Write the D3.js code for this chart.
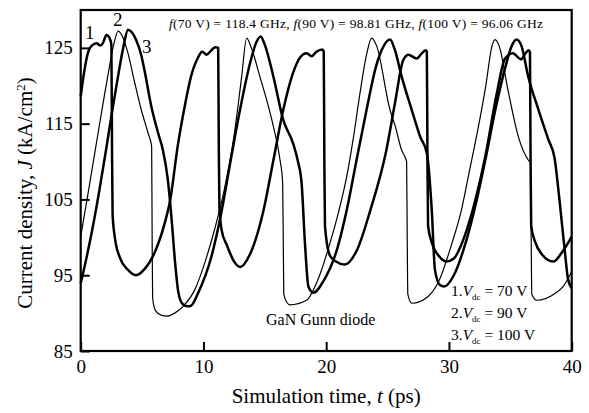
<!DOCTYPE html>
<html>
<head>
<meta charset="utf-8">
<script src="https://cdn.jsdelivr.net/npm/d3@7"></script>
<style>
  html, body { margin: 0; padding: 0; background: #fff; }
  svg, svg text { font-family: "Liberation Serif", "Times New Roman", "DejaVu Serif", serif; }
</style>
</head>
<body>
<svg id="chart" width="589" height="413"></svg>
<script>
// Current density J (kA/cm^2) versus simulation time t (ps) for a GaN Gunn diode

// Curve 1: Vdc = 70 V (thick)
const v70Time = [0.0, 0.3, 0.6, 0.9, 1.3, 1.6, 1.8, 2.1, 2.35, 2.5, 2.55, 2.6, 2.8, 3.2, 3.85, 4.5, 5.2, 6.0, 6.85, 7.3, 7.9, 8.5, 9.0, 9.55, 9.9, 10.25, 10.6, 10.95, 11.2, 11.25, 11.3, 11.5, 11.9, 12.5, 13.0, 13.8, 14.9, 15.7, 16.5, 17.3, 17.9, 18.4, 18.82, 19.2, 19.7, 19.8, 19.85, 19.9, 20.3, 20.8, 21.5, 22.5, 23.6, 24.9, 25.6, 26.28, 26.7, 27.37, 27.8, 28.1, 28.2, 28.25, 28.3, 28.6, 29.2, 29.8, 30.4, 31.0, 32.0, 33.0, 33.9, 34.57, 35.2, 35.87, 36.2, 36.5, 36.6, 36.65, 36.7, 37.0, 37.6, 38.5, 39.2, 40.0];
const v70Density = [118.6, 122.0, 124.4, 125.3, 125.6, 125.3, 125.6, 126.7, 126.3, 125.4, 112.0, 103.0, 99.8, 97.3, 95.7, 95.0, 95.8, 97.9, 101.9, 105.0, 112.0, 117.5, 121.3, 123.7, 124.5, 124.1, 124.6, 125.1, 125.0, 112.0, 104.0, 100.8, 99.0, 96.8, 96.1, 97.8, 103.6, 110.2, 116.8, 121.7, 123.8, 124.3, 123.9, 124.5, 124.8, 124.5, 110.0, 101.5, 97.6, 96.8, 96.4, 98.3, 103.6, 111.5, 117.7, 123.4, 124.1, 123.6, 124.3, 124.7, 124.5, 110.0, 101.5, 99.3, 97.5, 96.8, 97.2, 99.0, 104.0, 111.0, 119.0, 123.6, 124.3, 123.5, 124.2, 124.7, 124.4, 110.0, 101.5, 99.5, 97.7, 96.8, 98.0, 100.1];

// Curve 2: Vdc = 90 V (thin)
const v90Time = [0.0, 0.6, 1.4, 2.2, 2.7, 3.05, 3.4, 3.85, 4.4, 4.94, 5.48, 5.78, 5.82, 5.86, 6.1, 6.6, 7.0, 7.66, 8.4, 9.3, 10.1, 10.9, 11.7, 12.5, 13.1, 13.52, 13.9, 14.6, 15.7, 16.24, 16.45, 16.5, 16.55, 16.8, 17.05, 18.4, 19.3, 20.3, 21.0, 21.67, 22.2, 22.75, 23.3, 23.7, 24.1, 25.2, 25.6, 26.15, 26.45, 26.55, 26.6, 26.65, 26.97, 28.3, 29.2, 30.2, 31.0, 31.7, 32.4, 33.0, 33.5, 33.75, 34.1, 34.8, 35.65, 36.46, 36.65, 36.7, 36.75, 37.15, 38.64, 39.3, 40.0];
const v90Density = [100.1, 105.8, 113.6, 121.2, 125.5, 127.2, 126.5, 124.3, 120.4, 116.8, 113.8, 112.0, 100.0, 92.0, 90.3, 89.7, 89.6, 90.0, 91.0, 93.1, 96.6, 101.0, 106.3, 113.5, 121.0, 126.3, 125.0, 121.2, 114.6, 110.2, 107.3, 100.0, 92.5, 91.4, 91.1, 91.7, 94.3, 99.2, 103.3, 108.0, 113.0, 119.0, 124.2, 126.3, 125.3, 116.8, 114.8, 111.5, 110.5, 110.0, 100.0, 92.5, 91.3, 92.2, 94.3, 99.0, 103.5, 109.0, 114.6, 120.0, 125.2, 126.1, 125.2, 119.5, 113.3, 110.2, 109.8, 100.0, 92.5, 91.7, 92.6, 93.5, 95.5];

// Curve 3: Vdc = 100 V (thick)
const v100Time = [0.0, 0.5, 1.0, 1.5, 2.05, 2.6, 3.1, 3.5, 3.85, 4.2, 4.5, 4.94, 5.2, 5.75, 6.3, 6.7, 7.1, 7.4, 7.7, 7.95, 8.3, 8.7, 9.0, 9.55, 10.64, 11.45, 12.2, 13.0, 13.8, 14.3, 14.66, 15.0, 15.7, 16.5, 17.3, 17.7, 18.0, 18.27, 18.55, 18.95, 19.8, 20.9, 21.7, 22.45, 23.25, 24.05, 24.7, 25.2, 25.6, 26.15, 26.97, 27.65, 28.2, 28.6, 28.86, 29.27, 29.6, 30.4, 31.4, 32.2, 33.0, 33.8, 34.6, 35.1, 35.5, 35.9, 36.46, 37.3, 38.1, 38.6, 39.0, 39.45, 39.7, 40.0];
const v100Density = [93.9, 97.5, 101.5, 106.0, 111.4, 117.0, 121.8, 125.3, 127.4, 127.0, 126.1, 124.0, 122.0, 117.3, 113.8, 111.5, 107.6, 102.5, 96.5, 92.8, 91.2, 90.9, 91.0, 92.6, 97.4, 103.2, 110.0, 117.0, 123.0, 125.7, 126.5, 125.4, 121.2, 115.5, 112.4, 110.0, 107.1, 99.2, 93.5, 92.7, 94.3, 98.5, 103.8, 110.0, 116.5, 122.5, 125.3, 126.1, 124.7, 121.2, 116.8, 113.3, 111.1, 103.6, 95.7, 93.7, 93.5, 95.0, 99.5, 104.5, 110.5, 117.0, 122.5, 125.2, 126.1, 125.3, 121.2, 116.8, 112.9, 110.5, 105.0, 98.0, 94.5, 93.3];

// Axis ticks
const xTicks = [0, 10, 20, 30, 40];
const yTicks = [85, 95, 105, 115, 125];

const seriesList = [
  { time: v70Time, density: v70Density, width: 2.5 },
  { time: v90Time, density: v90Density, width: 1.2 },
  { time: v100Time, density: v100Density, width: 2.5 }
];

const serif = "'Liberation Serif', 'Times New Roman', 'DejaVu Serif', serif";
const svg = d3.select("#chart").attr("font-family", serif);
const plotLeft = 80.7, plotRight = 571.7, plotTop = 10, plotBottom = 351;

const x = d3.scaleLinear().domain([0, 40]).range([plotLeft, plotRight]);
const y = d3.scaleLinear().domain([85, 130]).range([plotBottom, plotTop]);

// Curves
const line = d3.line()
  .x(d => x(d[0]))
  .y(d => y(d[1]))
  .curve(d3.curveMonotoneX);

const plot = svg.append("g");
seriesList.forEach(s => {
  const pts = s.time.map((t, i) => [t, s.density[i]]);
  plot.append("path")
    .attr("d", line(pts))
    .attr("fill", "none")
    .attr("stroke", "#000")
    .attr("stroke-width", s.width)
    .attr("stroke-linejoin", "round");
});

// Axes with inward ticks
const xAxis = svg.append("g")
  .attr("transform", `translate(0,${plotBottom})`)
  .call(d3.axisBottom(x).tickValues(xTicks).tickSizeInner(-9).tickSizeOuter(0).tickPadding(9));
const yAxis = svg.append("g")
  .attr("transform", `translate(${plotLeft},0)`)
  .call(d3.axisLeft(y).tickValues(yTicks).tickSizeInner(-9).tickSizeOuter(0).tickPadding(8));

[xAxis, yAxis].forEach(g => {
  g.attr("font-family", serif).attr("font-size", 19);
  g.select(".domain").remove();
  g.selectAll(".tick line").attr("stroke", "#000").attr("stroke-width", 2);
  g.selectAll(".tick text").attr("fill", "#000");
});

// Frame
svg.append("rect")
  .attr("x", plotLeft).attr("y", plotTop)
  .attr("width", plotRight - plotLeft).attr("height", plotBottom - plotTop)
  .attr("fill", "none").attr("stroke", "#000").attr("stroke-width", 2.2);

// Axis titles
const xTitle = svg.append("text")
  .attr("x", (plotLeft + plotRight) / 2).attr("y", 403)
  .attr("text-anchor", "middle")
  .attr("font-size", 21);
xTitle.append("tspan").text("Simulation time, ");
xTitle.append("tspan").attr("font-style", "italic").text("t");
xTitle.append("tspan").text(" (ps)");

const yTitle = svg.append("text")
  .attr("transform", "translate(32,193) rotate(-90)")
  .attr("text-anchor", "middle")
  .attr("font-size", 21);
yTitle.append("tspan").text("Current density, ");
yTitle.append("tspan").attr("font-style", "italic").text("J");
yTitle.append("tspan").text(" (kA/cm");
yTitle.append("tspan").attr("dy", -7).attr("font-size", 13).text("2");
yTitle.append("tspan").attr("dy", 7).text(")");

// Oscillation frequencies
const freq = svg.append("text")
  .attr("x", 169).attr("y", 28)
  .attr("font-size", 13.5)
  .attr("textLength", 374)
  .attr("lengthAdjust", "spacing");
[["f", true], ["(70 V) = 118.4 GHz, ", false], ["f", true], ["(90 V) = 98.81 GHz, ", false], ["f", true], ["(100 V) = 96.06 GHz", false]]
  .forEach(([s, it]) => freq.append("tspan").attr("font-style", it ? "italic" : "normal").text(s));

// Curve numbers
[["1", 85, 39], ["2", 113, 26], ["3", 142, 53]].forEach(([s, px, py]) => {
  svg.append("text").attr("x", px).attr("y", py).attr("font-size", 19).text(s);
});

// Device label
svg.append("text").attr("x", 266).attr("y", 325).attr("font-size", 16).text("GaN Gunn diode");

// Bias legend
[["1.", "70 V", 296], ["2.", "90 V", 318], ["3.", "100 V", 340]].forEach(([n, v, py]) => {
  const t = svg.append("text").attr("x", 451).attr("y", py).attr("font-size", 15.5);
  t.append("tspan").text(n);
  t.append("tspan").attr("font-style", "italic").text("V");
  t.append("tspan").attr("dy", 4).attr("font-size", 9).text("dc");
  t.append("tspan").attr("dy", -4).text(" = " + v);
});
</script>
</body>
</html>
